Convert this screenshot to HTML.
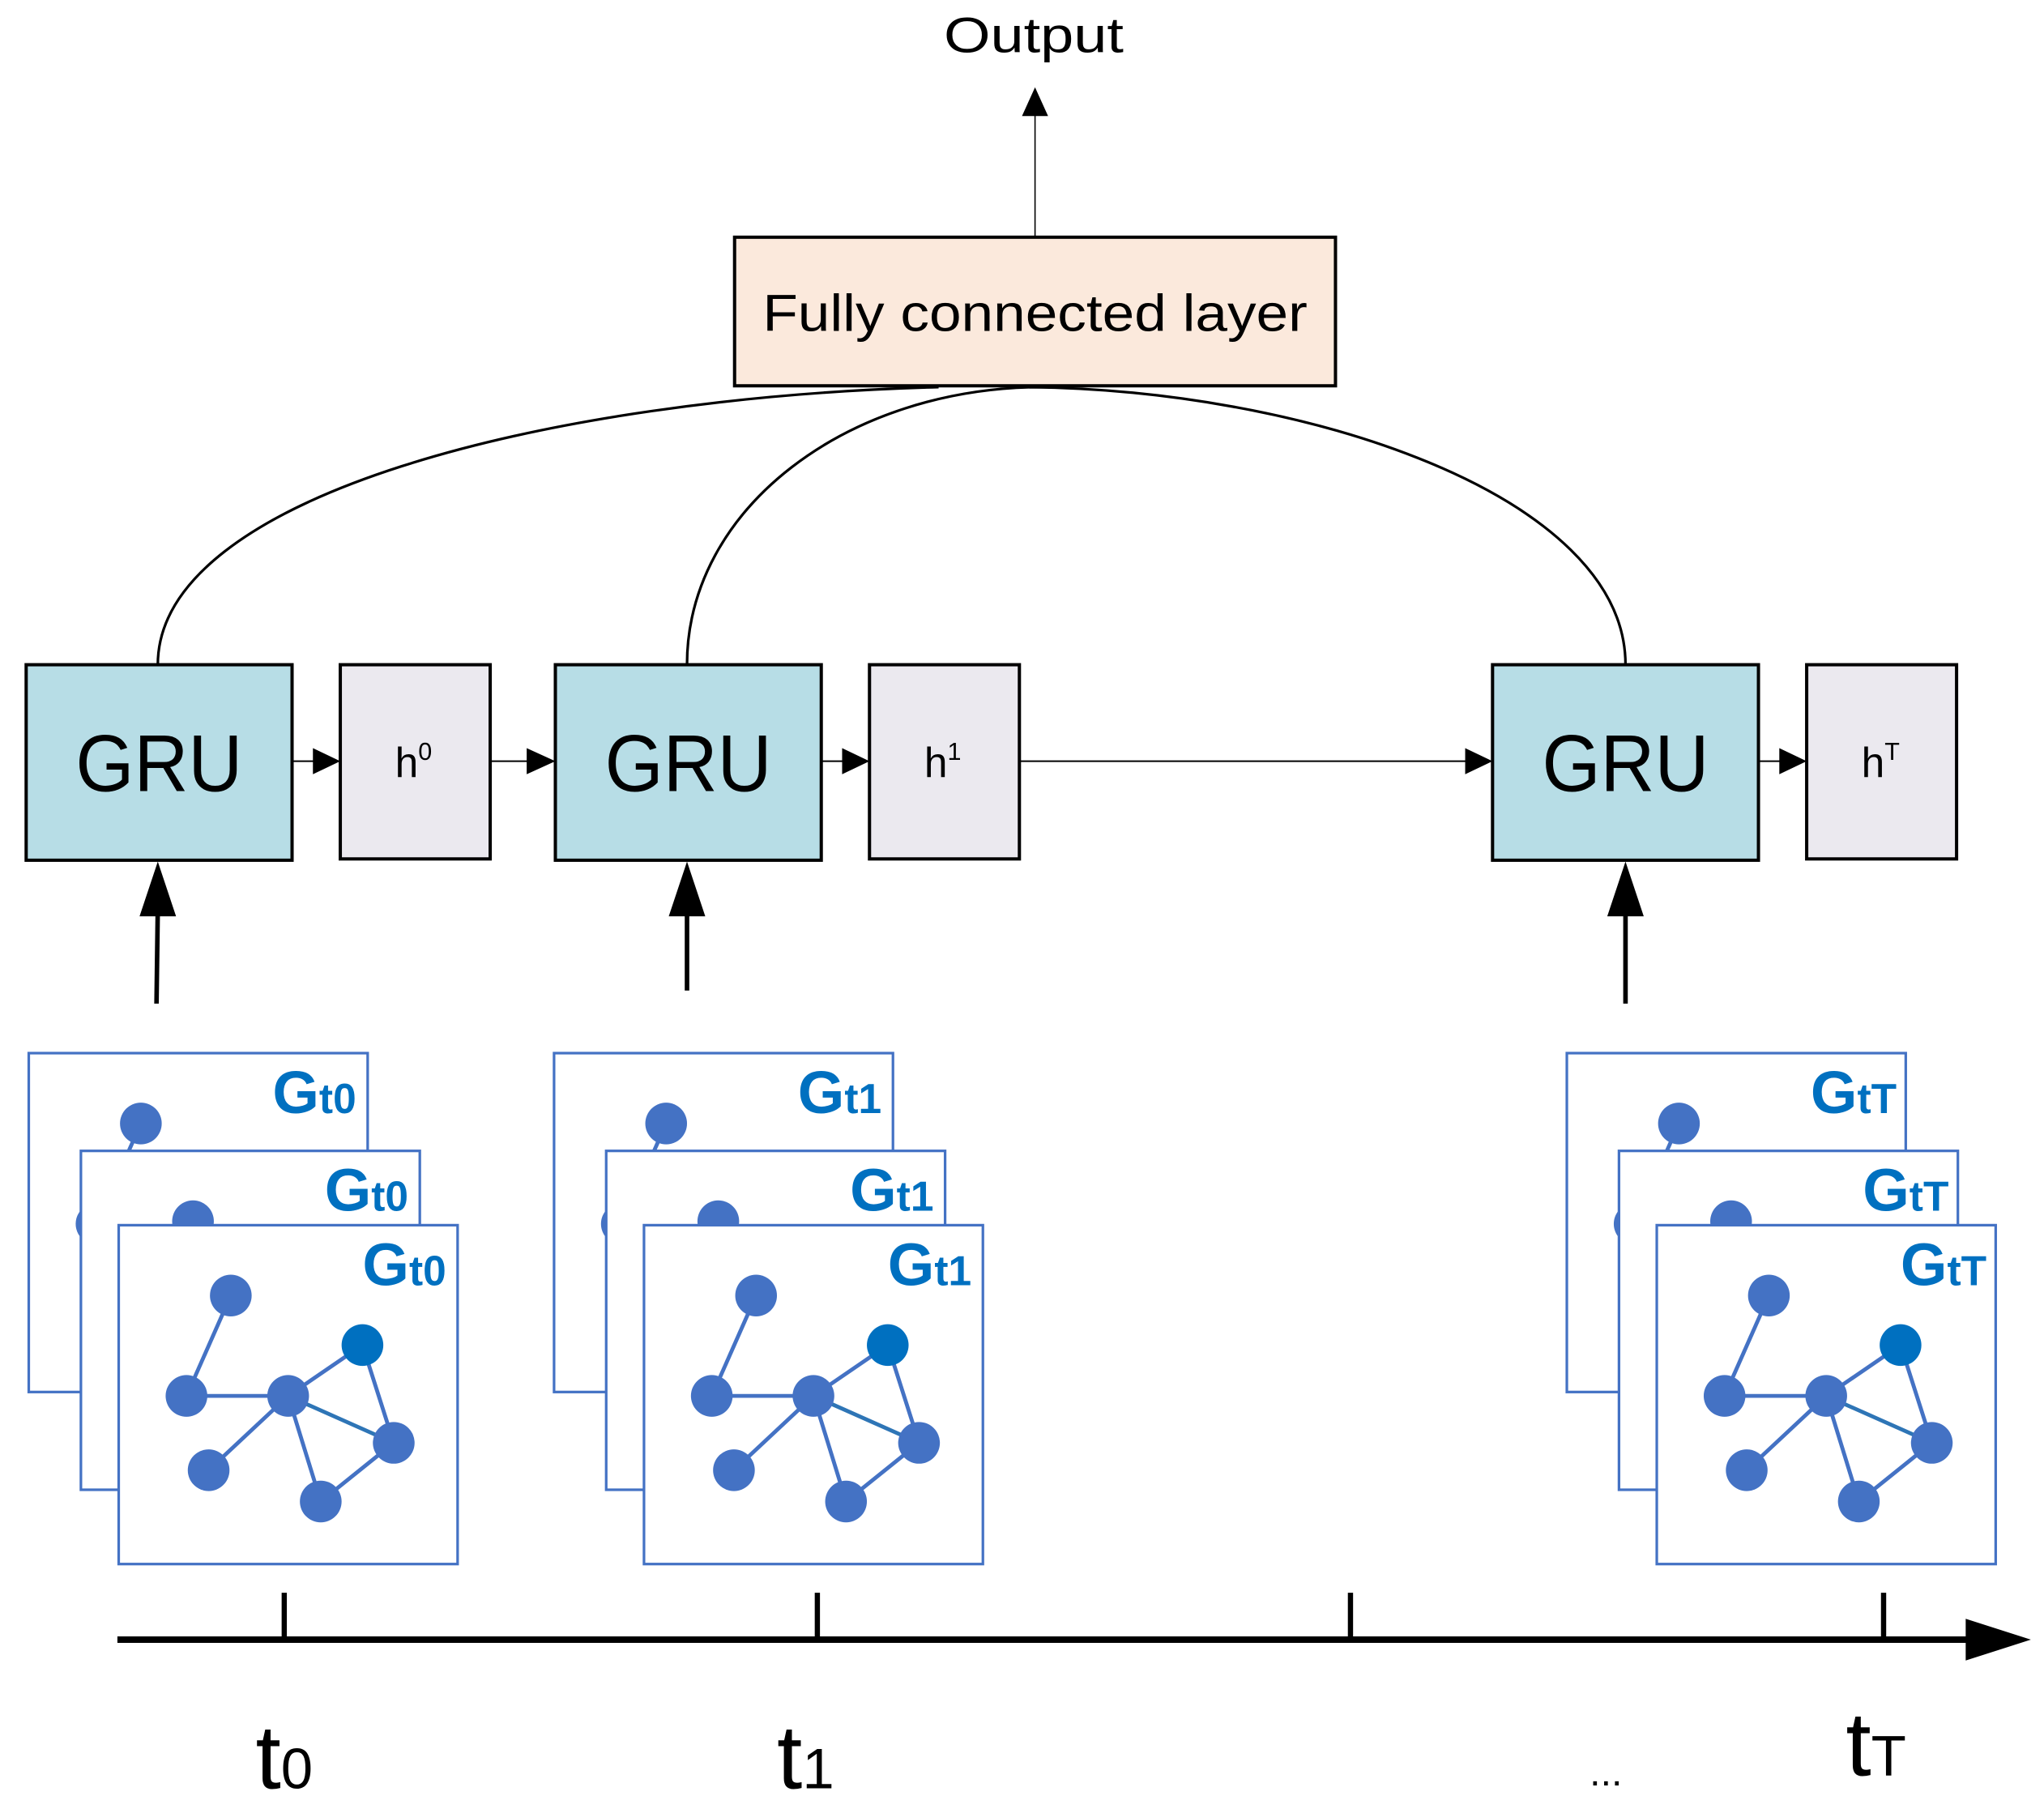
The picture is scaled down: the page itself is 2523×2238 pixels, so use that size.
<!DOCTYPE html>
<html><head><meta charset="utf-8"><style>
html,body{margin:0;padding:0;background:#fff;}
svg{display:block;}
text{font-family:"Liberation Sans","DejaVu Sans",sans-serif;}
</style></head><body>
<svg width="2523" height="2238" viewBox="0 0 1568 1391" xmlns="http://www.w3.org/2000/svg">
<defs>
<g id="graph">
  <g stroke="#4472c4" stroke-width="3">
    <line x1="86" y1="54" x2="52" y2="131"/>
    <line x1="52" y1="131" x2="130" y2="131"/>
    <line x1="130" y1="131" x2="187" y2="92"/>
    <line x1="130" y1="131" x2="211" y2="167" stroke="#2e75b6"/>
    <line x1="187" y1="92" x2="211" y2="167"/>
    <line x1="130" y1="131" x2="69" y2="188"/>
    <line x1="130" y1="131" x2="155" y2="212"/>
    <line x1="155" y1="212" x2="211" y2="167"/>
  </g>
  <g fill="#4472c4">
    <circle cx="86" cy="54" r="16"/><circle cx="52" cy="131" r="16"/><circle cx="130" cy="131" r="16"/>
    <circle cx="211" cy="167" r="16"/><circle cx="69" cy="188" r="16"/><circle cx="155" cy="212" r="16"/>
  </g>
  <circle cx="187" cy="92" r="16" fill="#0070c0"/>
</g>
</defs>

<text x="793" y="40" font-size="38" text-anchor="middle" textLength="138" lengthAdjust="spacingAndGlyphs">Output</text>
<line x1="794" y1="181" x2="794" y2="88" stroke="#000" stroke-width="1"/>
<path d="M784,89 L794,67 L804,89 z" fill="#000"/>

<rect x="563.5" y="182" width="461" height="114" fill="#fbe9dc" stroke="#000" stroke-width="2.5"/>
<text x="794" y="254" font-size="40" text-anchor="middle" textLength="418" lengthAdjust="spacingAndGlyphs">Fully connected layer</text>

<g fill="none" stroke="#000" stroke-width="2">
<path d="M121,510 C121,380 420,305 720,297"/>
<path d="M527,510 C527,390 650,297 800,297"/>
<path d="M1247,510 C1247,380 1000,297 780,297"/>
</g>

<g stroke="#000" stroke-width="2.5">
<rect x="20" y="510" width="204" height="150" fill="#b7dde6"/>
<rect x="426" y="510" width="204" height="150" fill="#b7dde6"/>
<rect x="1145" y="510" width="204" height="150" fill="#b7dde6"/>
<rect x="261" y="510" width="115" height="149" fill="#ebe9ef"/>
<rect x="667" y="510" width="115" height="149" fill="#ebe9ef"/>
<rect x="1386" y="510" width="115" height="149" fill="#ebe9ef"/>
</g>
<g font-size="62" text-anchor="middle">
<text x="122" y="607" textLength="128" lengthAdjust="spacingAndGlyphs">GRU</text>
<text x="528" y="607" textLength="128" lengthAdjust="spacingAndGlyphs">GRU</text>
<text x="1247" y="607" textLength="128" lengthAdjust="spacingAndGlyphs">GRU</text>
</g>
<g font-size="32">
<text x="303" y="596">h<tspan font-size="19" dy="-13">0</tspan></text>
<text x="709" y="596">h<tspan font-size="19" dy="-13">1</tspan></text>
<text x="1428" y="596">h<tspan font-size="19" dy="-13">T</tspan></text>
</g>

<g stroke="#000" stroke-width="1.2">
<line x1="224" y1="584" x2="242" y2="584"/>
<line x1="376" y1="584" x2="406" y2="584"/>
<line x1="630" y1="584" x2="648" y2="584"/>
<line x1="782" y1="584" x2="1126" y2="584"/>
<line x1="1349" y1="584" x2="1367" y2="584"/>
</g>
<g fill="#000">
<path d="M240,574 L261,584 L240,594 z"/>
<path d="M404,574 L426,584 L404,594 z"/>
<path d="M646,574 L667,584 L646,594 z"/>
<path d="M1124,574 L1145,584 L1124,594 z"/>
<path d="M1365,574 L1386,584 L1365,594 z"/>
</g>

<g stroke="#000" stroke-width="3.5">
<line x1="120" y1="770" x2="121" y2="695"/>
<line x1="527" y1="760" x2="527" y2="695"/>
<line x1="1247" y1="770" x2="1247" y2="695"/>
</g>
<g fill="#000">
<path d="M107,703 L121,661 L135,703 z"/>
<path d="M513,703 L527,661 L541,703 z"/>
<path d="M1233,703 L1247,661 L1261,703 z"/>
</g>

<g id="stack0">
  <g transform="translate(22,808)">
    <rect x="0" y="0" width="260" height="260" fill="#fff" stroke="#4472c4" stroke-width="2"/>
    <use href="#graph"/>
  </g>
  <g transform="translate(62,883)">
    <rect x="0" y="0" width="260" height="260" fill="#fff" stroke="#4472c4" stroke-width="2"/>
    <use href="#graph"/>
  </g>
  <g transform="translate(91,940)">
    <rect x="0" y="0" width="260" height="260" fill="#fff" stroke="#4472c4" stroke-width="2"/>
    <use href="#graph"/>
  </g>
</g>
<use href="#stack0" transform="translate(403,0)"/>
<use href="#stack0" transform="translate(1180,0)"/>

<g fill="#0070c0" font-weight="bold">
<text x="209" y="854" font-size="46">G<tspan font-size="32">t0</tspan></text>
<text x="249" y="929" font-size="46">G<tspan font-size="32">t0</tspan></text>
<text x="278" y="986" font-size="46">G<tspan font-size="32">t0</tspan></text>
<text x="612" y="854" font-size="46">G<tspan font-size="32">t1</tspan></text>
<text x="652" y="929" font-size="46">G<tspan font-size="32">t1</tspan></text>
<text x="681" y="986" font-size="46">G<tspan font-size="32">t1</tspan></text>
<text x="1389" y="854" font-size="46">G<tspan font-size="32">tT</tspan></text>
<text x="1429" y="929" font-size="46">G<tspan font-size="32">tT</tspan></text>
<text x="1458" y="986" font-size="46">G<tspan font-size="32">tT</tspan></text>
</g>

<line x1="90" y1="1258" x2="1515" y2="1258" stroke="#000" stroke-width="5"/>
<path d="M1508,1242 L1558,1258 L1508,1274 z" fill="#000"/>
<g stroke="#000" stroke-width="4">
<line x1="218" y1="1222" x2="218" y2="1258"/>
<line x1="627" y1="1222" x2="627" y2="1258"/>
<line x1="1036" y1="1222" x2="1036" y2="1258"/>
<line x1="1445" y1="1222" x2="1445" y2="1258"/>
</g>
<g font-size="70">
<text x="196" y="1372">t<tspan font-size="44">0</tspan></text>
<text x="596" y="1372">t<tspan font-size="44">1</tspan></text>
<text x="1416" y="1362">t<tspan font-size="44">T</tspan></text>
</g>
<text x="1232" y="1370" font-size="30" text-anchor="middle">...</text>
</svg>
</body></html>
